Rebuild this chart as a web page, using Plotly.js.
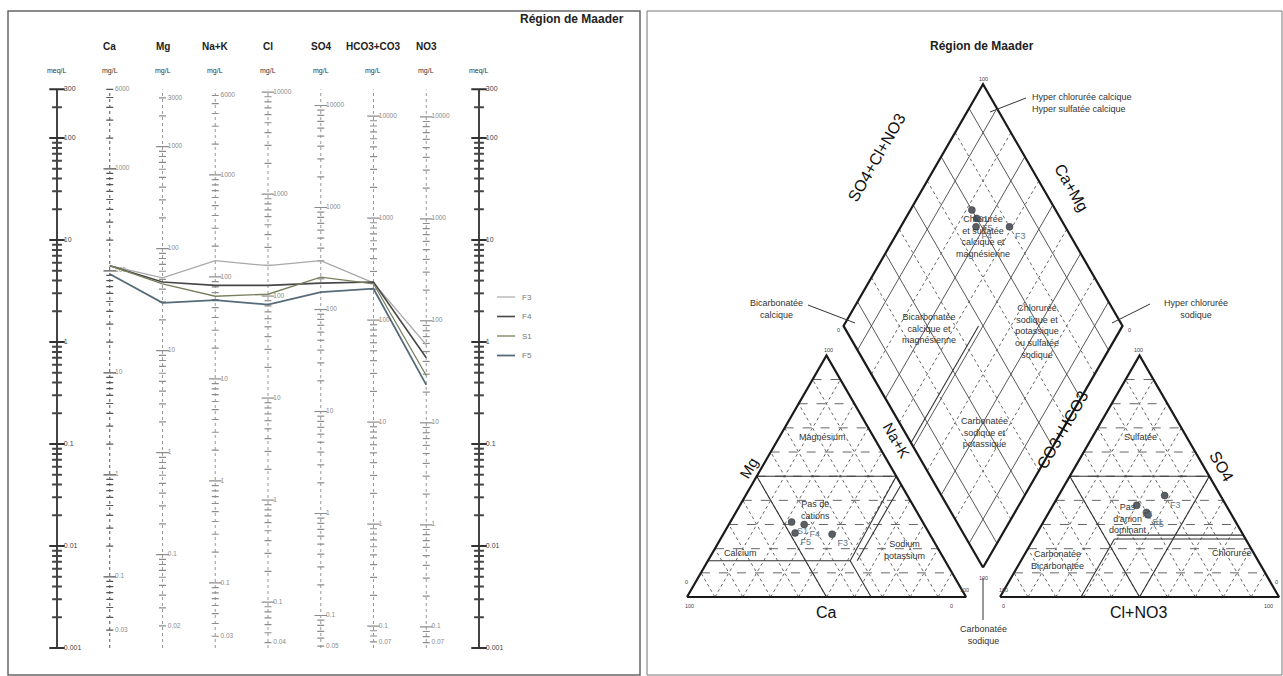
<!DOCTYPE html>
<html><head><meta charset="utf-8">
<script src="https://cdn.plot.ly/plotly-3.0.1.min.js"></script>
<style>html,body{margin:0;padding:0;background:#fff;overflow:hidden}#chart{width:1283px;height:676px}</style>
</head><body><div id="chart"></div>
<script>
// ---------------- DATA ----------------
const ions = ['Ca','Mg','Na+K','Cl','SO4','HCO3+CO3','NO3'];
const eqWeights = [20.04, 12.15, 23.0, 35.45, 48.03, 61.0, 62.0];
const samples = ['F3','F4','S1','F5'];
// Schoeller values, meq/L, in the order of ions
const meqF3 = [5.6, 4.25, 6.27, 5.6, 6.27, 3.8, 0.94];
const meqF4 = [5.6, 3.87, 3.59, 3.59, 3.78, 3.87, 0.70];
const meqS1 = [5.6, 3.72, 2.81, 2.94, 4.32, 3.72, 0.47];
const meqF5 = [4.65, 2.42, 2.57, 2.33, 3.09, 3.33, 0.38];
// tick labels
const meqLabels = [300, 100, 10, 1, 0.1, 0.01, 0.001];
const mgLabelsCa  = [6000, 1000, 100, 10, 1, 0.1, 0.03];
const mgLabelsMg  = [3000, 1000, 100, 10, 1, 0.1, 0.02];
const mgLabelsNa  = [6000, 1000, 100, 10, 1, 0.1, 0.03];
const mgLabelsCl  = [10000, 1000, 100, 10, 1, 0.1, 0.04];
const mgLabelsSO4 = [10000, 1000, 100, 10, 1, 0.1, 0.05];
const mgLabelsHCO3= [10000, 1000, 100, 10, 1, 0.1, 0.07];
const mgLabelsNO3 = [10000, 1000, 100, 10, 1, 0.1, 0.07];
// Piper percentages
const pipCa   = [35, 43, 47, 48];
const pipMg   = [26, 30, 31, 26.5];
const pipNa   = [39, 27, 22, 25.5];
const pipHCO3 = [20, 32, 30, 30];
const pipSO4  = [42, 38, 35, 34];
const pipCl   = [38, 30, 35, 36];

// ---------------- STYLE ----------------
const FONT = 'Liberation Sans, Arial, sans-serif';
const W = 1283, HH = 676;
const px = x => x / W, py = y => 1 - y / HH;
const lineColors = ['#a8a8a8', '#474747', '#77805c', '#566b7a'];
const lineWidths = [1.2, 1.6, 1.3, 1.8];

const traces = [], shapes = [], annotations = [];

// ---------------- SCHOELLER ----------------
const meqVals = [meqF3, meqF4, meqS1, meqF5];
const mgLabels = [mgLabelsCa, mgLabelsMg, mgLabelsNa, mgLabelsCl, mgLabelsSO4, mgLabelsHCO3, mgLabelsNO3];
const colX = ions.map((_, i) => i + 1);

// meq axes
[0, 8].forEach(cx => {
  traces.push({x:[cx, cx], y:[0.001, 300], mode:'lines', line:{color:'#444', width:2}, xaxis:'x', yaxis:'y', hoverinfo:'skip'});
  const tx = [], ty = [], mx = [], my = [];
  for (let k = -3; k <= 2; k++) for (let m = 1; m <= 9; m++) {
    const v = m * Math.pow(10, k);
    if (v > 300.001) continue;
    if (m === 1 || v === 300) { mx.push(cx); my.push(v); } else { tx.push(cx); ty.push(v); }
  }
  traces.push({x:tx, y:ty, mode:'markers', marker:{symbol:'line-ew', size:7, line:{width:2, color:'#444'}}, xaxis:'x', yaxis:'y', hoverinfo:'skip'});
  traces.push({x:mx, y:my, mode:'markers', marker:{symbol:'line-ew', size:11, line:{width:2, color:'#333'}}, xaxis:'x', yaxis:'y', hoverinfo:'skip'});
  traces.push({x:meqLabels.map(() => cx + 0.13), y:meqLabels, text:meqLabels.map(String), mode:'text', textposition:'middle right',
    textfont:{size:7, color:'#444', family:FONT}, cliponaxis:false, xaxis:'x', yaxis:'y', hoverinfo:'skip'});
});

// mg/L axes
ions.forEach((ion, i) => {
  const cx = colX[i], eq = eqWeights[i];
  traces.push({x:[cx, cx], y:[0.001, 300], mode:'lines', line:{color: i === 0 ? '#555' : '#999', width:1, dash:'dot'}, xaxis:'x', yaxis:'y', hoverinfo:'skip'});
  const tx = [], ty = [], mx = [], my = [];
  for (let k = -3; k <= 5; k++) for (let m = 1; m <= 9; m++) {
    const v = m * Math.pow(10, k) / eq;
    if (v < 0.001 || v > 300) continue;
    if (m === 1) { mx.push(cx); my.push(v); } else { tx.push(cx); ty.push(v); }
  }
  const c = i === 0 ? '#555' : '#8c8c8c';
  traces.push({x:tx, y:ty, mode:'markers', marker:{symbol:'line-ew', size:5, line:{width:1.2, color:c}}, xaxis:'x', yaxis:'y', hoverinfo:'skip'});
  traces.push({x:mx, y:my, mode:'markers', marker:{symbol:'line-ew', size:9, line:{width:1.2, color:c}}, xaxis:'x', yaxis:'y', hoverinfo:'skip'});
  const labs = mgLabels[i];
  traces.push({x:labs.map(() => cx + 0.1), y:labs.map(v => v / eq), text:labs.map(String), mode:'text', textposition:'middle right',
    textfont:{size:6.5, color:'#8a8a8a', family:FONT}, cliponaxis:false, xaxis:'x', yaxis:'y', hoverinfo:'skip'});
});

// sample lines
samples.forEach((s, i) => {
  traces.push({x:colX, y:meqVals[i], name:s, mode:'lines', line:{color:lineColors[i], width:lineWidths[i]}, xaxis:'x', yaxis:'y'});
});

// headers
const colPx = i => 57 + i * 52.75;
ions.forEach((ion, i) => {
  annotations.push({text:'<b>' + ion + '</b>', x:px(colPx(i + 1)), y:py(47), xref:'paper', yref:'paper', showarrow:false,
    font:{size:10, family:FONT, color:'#222'}, xanchor:'center', yanchor:'middle'});
  annotations.push({text:'mg/L', x:px(colPx(i + 1)), y:py(71), xref:'paper', yref:'paper', showarrow:false,
    font:{size:7, family:FONT, color:'#333'}, xanchor:'center', yanchor:'middle'});
});
[0, 8].forEach(i => annotations.push({text:'meq/L', x:px(colPx(i)), y:py(71), xref:'paper', yref:'paper', showarrow:false,
  font:{size:7, family:FONT, color:'#333'}, xanchor:'center', yanchor:'middle'}));
annotations.push({text:'<b>Région de Maader</b>', x:px(626), y:py(19), xref:'paper', yref:'paper', showarrow:false,
  font:{size:12, family:FONT, color:'#222'}, xanchor:'right', yanchor:'middle'});

// manual legend
samples.forEach((s, i) => {
  const yy = 297 + i * 19.5;
  shapes.push({type:'line', xref:'paper', yref:'paper', x0:px(497), x1:px(515), y0:py(yy), y1:py(yy), line:{color:lineColors[i], width:lineWidths[i]}});
  annotations.push({text:s, x:px(520), y:py(yy), xref:'paper', yref:'paper', showarrow:false, xanchor:'left', yanchor:'middle',
    font:{size:8, family:FONT, color:'#777'}});
});

// panel borders
shapes.push({type:'rect', xref:'paper', yref:'paper', x0:px(8), x1:px(640), y0:py(675), y1:py(11), line:{color:'#666', width:1.5}});
shapes.push({type:'rect', xref:'paper', yref:'paper', x0:px(647), x1:px(1282), y0:py(675), y1:py(11), line:{color:'#777', width:1}});

// ---------------- PIPER ----------------
const S = 100, G = 12.2, K = Math.sqrt(3) / 2;
const catXY = (ca, mg, na) => { const t = ca + mg + na; return [(na + mg / 2) * 100 / t, mg / t * 100 * K]; };
const anXY = (hc, so, cl) => { const t = hc + so + cl; return [S + G + (cl + so / 2) * 100 / t, so / t * 100 * K]; };
const diaXY = (cm, sc) => [S + G / 2 + 0.5 * (sc - cm), G * K + K * (cm + sc)];

function segTrace(list, color, width, dash) {
  const x = [], y = [];
  list.forEach(seg => { seg.forEach(p => { x.push(p[0]); y.push(p[1]); }); x.push(null); y.push(null); });
  traces.push({x, y, mode:'lines', line:{color, width, dash}, xaxis:'x2', yaxis:'y2', hoverinfo:'skip', connectgaps:false});
}

// triangle grids
const hDash = [], dDot = [], diaSolid = [], diaDot = [];
for (let k = 10; k <= 90; k += 10) {
  hDash.push([catXY(100 - k, k, 0), catXY(0, k, 100 - k)]);
  dDot.push([catXY(100 - k, 0, k), catXY(0, 100 - k, k)]);
  dDot.push([catXY(k, 0, 100 - k), catXY(k, 100 - k, 0)]);
  hDash.push([anXY(100 - k, k, 0), anXY(0, k, 100 - k)]);
  dDot.push([anXY(100 - k, 0, k), anXY(0, 100 - k, k)]);
  dDot.push([anXY(k, 0, 100 - k), anXY(k, 100 - k, 0)]);
  const arr = (k / 10) % 2 === 1 ? diaSolid : diaDot;
  arr.push([diaXY(k, 0), diaXY(k, 100)]);
  arr.push([diaXY(0, k), diaXY(100, k)]);
}
segTrace(hDash, '#555', 0.9, 'dash');
segTrace(dDot, '#666', 1, 'dot');
segTrace(diaDot, '#666', 1, 'dot');
segTrace(diaSolid, '#444', 0.9, 'solid');

// classification lines
const P = [34, 15, 51], Q = [47, 24, 29];
segTrace([
  [catXY(50, 50, 0), catXY(0, 50, 50)],
  [catXY(50, 50, 0), catXY(50, 0, 50)],
  [catXY(0, 50, 50), catXY(P[0], P[1], P[2])],
  [catXY(31.5, 15, 53.5), catXY(0, 46.5, 53.5)],
  [catXY(85, 15, 0), catXY(P[0], P[1], P[2])],
  [catXY(P[0], P[1], P[2]), catXY(P[0], 0, 100 - P[0])],
  [anXY(50, 50, 0), anXY(0, 50, 50)],
  [anXY(50, 50, 0), anXY(50, 0, 50)],
  [anXY(0, 50, 50), anXY(50, 0, 50)],
  [anXY(0, 24, 76), anXY(Q[0], Q[1], Q[2])],
  [anXY(0, 25.6, 74.4), anXY(45.4, 25.6, 29)],
  [anXY(Q[0], Q[1], Q[2]), anXY(100 - Q[2], 0, Q[2])],
  [diaXY(51.6, 0), diaXY(51.6, 48.4)]
], '#333', 1.1, 'solid');

// outlines
segTrace([
  [catXY(100, 0, 0), catXY(0, 0, 100), catXY(0, 100, 0), catXY(100, 0, 0)],
  [anXY(100, 0, 0), anXY(0, 0, 100), anXY(0, 100, 0), anXY(100, 0, 0)],
  [diaXY(0, 0), diaXY(0, 100), diaXY(100, 100), diaXY(100, 0), diaXY(0, 0)]
], '#1a1a1a', 2.2, 'solid');

// sample points
const cP = samples.map((s, i) => catXY(pipCa[i], pipMg[i], pipNa[i]));
const aP = samples.map((s, i) => anXY(pipHCO3[i], pipSO4[i], pipCl[i]));
const dP = samples.map((s, i) => diaXY((pipCa[i] + pipMg[i]) / (pipCa[i] + pipMg[i] + pipNa[i]) * 100,
                                       (pipSO4[i] + pipCl[i]) / (pipHCO3[i] + pipSO4[i] + pipCl[i]) * 100));
[cP, aP, dP].forEach(pts => {
  traces.push({x:pts.map(p => p[0]), y:pts.map(p => p[1]), text:samples, mode:'markers+text', textposition:'bottom right',
    marker:{size:7, color:'#5a5f66', line:{width:0.5, color:'#333'}}, textfont:{size:9, color:'#60788a', family:FONT},
    cliponaxis:false, xaxis:'x2', yaxis:'y2', hoverinfo:'skip'});
});

// piper text
function ann(text, x, y, size, opt) {
  annotations.push(Object.assign({text, x:px(x), y:py(y), xref:'paper', yref:'paper', showarrow:false,
    font:{size, family:FONT, color:'#333'}, xanchor:'center', yanchor:'middle'}, opt || {}));
}
ann('<b>Région de Maader</b>', 982, 46, 12, {font:{size:12, family:FONT, color:'#222'}});
ann('SO4+Cl+NO3', 877, 158, 16, {textangle:-60, font:{size:16, family:FONT, color:'#111'}});
ann('Ca+Mg', 1071, 188, 16, {textangle:60, font:{size:16, family:FONT, color:'#111'}});
ann('Mg', 748, 468, 15, {textangle:-60, font:{size:15, family:FONT, color:'#111'}});
ann('Na+K', 897, 440, 15, {textangle:60, font:{size:15, family:FONT, color:'#111'}});
ann('Ca', 826, 612, 16, {font:{size:16, family:FONT, color:'#111'}});
ann('CO3+HCO3', 1062, 430, 16, {textangle:-60, font:{size:16, family:FONT, color:'#111'}});
ann('SO4', 1222, 466, 16, {textangle:60, font:{size:16, family:FONT, color:'#111'}});
ann('Cl+NO3', 1138, 612, 16, {font:{size:16, family:FONT, color:'#111'}});

const z = 9;
ann('Chlorurée<br>et sulfatée<br>calcique et<br>magnésienne', 983, 236, z);
ann('Bicarbonatée<br>calcique et<br>magnésienne', 929, 328, z);
ann('Chlorurée<br>sodique et<br>potassique<br>ou sulfatée<br>sodique', 1037, 331, z);
ann('Carbonatée<br>sodique et<br>potassique', 984, 432, z);
ann('Hyper chlorurée calcique<br>Hyper sulfatée calcique', 1030, 103, z, {xanchor:'left', align:'left'});
ann('Bicarbonatée<br>calcique', 776, 309, z);
ann('Hyper chlorurée<br>sodique', 1196, 309, z);
ann('Carbonatée<br>sodique', 983, 635, z);
ann('Magnésium', 822, 437, z);
ann('Pas de<br>cations', 815, 510, z);
ann('Calcium', 740, 553, z);
ann('Sodium<br>potassium', 904, 550, z);
ann('Sulfatée', 1140, 437, z);
ann('Pas<br>d\'anion<br>dominant', 1128, 518, z);
ann('Carbonatée<br>Bicarbonatée', 1057, 560, z);
ann('Chlorurée', 1232, 553, z);
// pointer lines
[[1026, 98, 990, 112], [808, 305, 855, 323], [1150, 304, 1112, 323], [983, 578, 983, 620]].forEach(l => {
  shapes.push({type:'line', xref:'paper', yref:'paper', x0:px(l[0]), y0:py(l[1]), x1:px(l[2]), y1:py(l[3]), line:{color:'#333', width:1}});
});
// corner numbers
[['100', 983, 79], ['0', 838, 330], ['0', 1129, 330], ['100', 983, 578], ['100', 690, 606], ['0', 951, 606],
 ['0', 1003, 606], ['100', 1268, 606], ['100', 828, 350], ['100', 1138, 350], ['0', 686, 582], ['100', 964, 590],
 ['100', 1003, 590], ['0', 1276, 582]].forEach(c => ann(c[0], c[1], c[2], 5.5, {font:{size:5.5, family:FONT, color:'#444'}}));

// ---------------- LAYOUT ----------------
const layout = {
  width:W, height:HH, margin:{l:0, r:0, t:0, b:0}, paper_bgcolor:'#fff', plot_bgcolor:'rgba(0,0,0,0)', showlegend:false,
  font:{family:FONT},
  xaxis:{domain:[4.25 / W, 531.75 / W], range:[-1, 9], visible:false, fixedrange:true},
  yaxis:{domain:[1 - 668.4 / HH, 1 - 66.6 / HH], type:'log', range:[-3.2, 2.7], visible:false, fixedrange:true},
  xaxis2:{domain:[648 / W, 1], range:[-13.978, 213.62], visible:false, anchor:'y2', fixedrange:true},
  yaxis2:{domain:[0, 1], range:[-28.315, 213.98], visible:false, anchor:'x2', fixedrange:true},
  shapes, annotations
};
Plotly.newPlot('chart', traces, layout, {displayModeBar:false, staticPlot:true});
</script></body></html>
